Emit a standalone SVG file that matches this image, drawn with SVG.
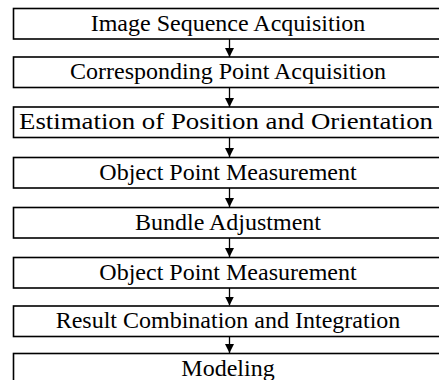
<svg xmlns="http://www.w3.org/2000/svg" width="439" height="380" viewBox="0 0 439 380">
<style>
.box{fill:#fff;stroke:#000;stroke-width:1.6}
.t{font-family:"Liberation Serif","Times New Roman",serif;font-size:24px;fill:#000;text-anchor:middle}
.c{stroke:#000;stroke-width:1.3;fill:none}
</style>
<defs>
<marker id="ah" markerUnits="userSpaceOnUse" markerWidth="10" markerHeight="10" refX="9" refY="4.5" orient="auto">
<path d="M0,0 L9,4.5 L0,9 Z" fill="#000"/>
</marker>
</defs>
<rect width="439" height="380" fill="#fff"/>
<g id="connectors">
<line class="c" x1="229.5" y1="39" x2="229.5" y2="57" marker-end="url(#ah)"/>
<line class="c" x1="229.5" y1="88" x2="229.5" y2="107" marker-end="url(#ah)"/>
<line class="c" x1="229.5" y1="138" x2="229.5" y2="157" marker-end="url(#ah)"/>
<line class="c" x1="229.5" y1="188" x2="229.5" y2="207" marker-end="url(#ah)"/>
<line class="c" x1="229.5" y1="238" x2="229.5" y2="257" marker-end="url(#ah)"/>
<line class="c" x1="229.5" y1="288" x2="229.5" y2="305.5" marker-end="url(#ah)"/>
<line class="c" x1="229.5" y1="337" x2="229.5" y2="353" marker-end="url(#ah)"/>
</g>
<g id="n1"><rect class="box" x="13.5" y="8.5" width="430" height="30.5"/><text class="t" x="228" y="30.5">Image Sequence Acquisition</text></g>
<g id="n2"><rect class="box" x="13.5" y="57" width="430" height="30.5"/><text class="t" x="228" y="79">Corresponding Point Acquisition</text></g>
<g id="n3"><rect class="box" x="13.5" y="107" width="430" height="30.5"/><text class="t" x="226" y="129" textLength="414" lengthAdjust="spacingAndGlyphs">Estimation of Position and Orientation</text></g>
<g id="n4"><rect class="box" x="13.5" y="157.5" width="430" height="30.5"/><text class="t" x="228" y="179.5">Object Point Measurement</text></g>
<g id="n5"><rect class="box" x="13.5" y="207.5" width="430" height="30.5"/><text class="t" x="228" y="229.5">Bundle Adjustment</text></g>
<g id="n6"><rect class="box" x="13.5" y="257.5" width="430" height="30.5"/><text class="t" x="228" y="279.5">Object Point Measurement</text></g>
<g id="n7"><rect class="box" x="13.5" y="306" width="430" height="30.5"/><text class="t" x="228" y="328">Result Combination and Integration</text></g>
<g id="n8"><rect class="box" x="13.5" y="353.5" width="430" height="30.5"/><text class="t" x="228" y="375.5">Modeling</text></g>
</svg>
